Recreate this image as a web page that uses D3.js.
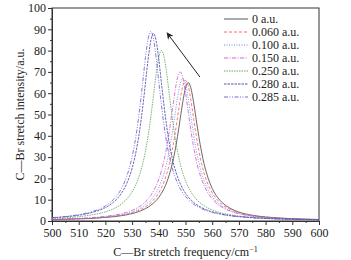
<!DOCTYPE html>
<html lang="en">
  <head>
    <meta charset="UTF-8" />
    <title>C-Br stretch spectra</title>
    <script src="https://cdn.jsdelivr.net/npm/d3@7"></script>
    <style>
      body { margin: 0; background: #fff; }
      text { font-family: 'Liberation Serif', 'Times New Roman', serif; fill: #222; }
    </style>
  </head>
  <body>
    <div id="chart_svg"></div>
    <script>
      // frequency grid, cm^-1
      const freq = [500, 505, 510, 515, 520, 523, 526, 528,
        529, 530, 531, 532, 533, 534, 535, 536, 537, 538, 539, 540,
        541, 542, 543, 544, 545, 546, 547, 548, 549, 550,
        551, 552, 553, 554, 555, 556, 557, 558, 559, 560,
        562, 564, 567, 570, 575, 580, 590, 600]

      const labels = ['0 a.u.', '0.060 a.u.', '0.100 a.u.', '0.150 a.u.', '0.250 a.u.', '0.280 a.u.', '0.285 a.u.']

      const s0 = [0.6, 0.8, 1.0, 1.2, 1.7, 2.0, 2.5, 2.9,
        3.2, 3.5, 3.8, 4.2, 4.7, 5.2, 5.8, 6.5, 7.4, 8.4, 9.6, 11.1,
        13.0, 15.3, 18.3, 22.0, 26.6, 32.5, 39.6, 47.8, 56.0, 62.5,
        65.0, 62.5, 56.0, 47.8, 39.6, 32.5, 26.6, 22.0, 18.3, 15.3,
        11.1, 8.4, 5.8, 4.2, 2.7, 1.9, 1.1, 0.7]
      const s1 = [0.7, 0.8, 1.0, 1.3, 1.8, 2.2, 2.7, 3.2,
        3.5, 3.9, 4.3, 4.7, 5.3, 5.9, 6.6, 7.5, 8.5, 9.8, 11.3, 13.2,
        15.6, 18.5, 22.3, 27.0, 33.0, 40.2, 48.5, 56.9, 63.5, 66.0,
        63.5, 56.9, 48.5, 40.2, 33.0, 27.0, 22.3, 18.5, 15.6, 13.2,
        9.8, 7.5, 5.3, 3.9, 2.5, 1.8, 1.0, 0.7]
      const s2 = [0.7, 0.9, 1.1, 1.4, 1.9, 2.4, 3.0, 3.6,
        3.9, 4.3, 4.8, 5.3, 6.0, 6.7, 7.6, 8.6, 9.9, 11.5, 13.4, 15.8,
        18.8, 22.6, 27.5, 33.5, 40.9, 49.3, 57.8, 64.4, 67.0, 64.4,
        57.8, 49.3, 40.9, 33.5, 27.5, 22.6, 18.8, 15.8, 13.4, 11.5,
        8.6, 6.7, 4.8, 3.6, 2.4, 1.7, 1.0, 0.6]
      const s3 = [0.8, 0.9, 1.2, 1.6, 2.2, 2.7, 3.4, 4.1,
        4.5, 5.0, 5.6, 6.2, 7.0, 7.9, 9.0, 10.4, 12.0, 14.0, 16.5, 19.7,
        23.6, 28.7, 35.0, 42.7, 51.5, 60.3, 67.3, 70.0, 67.3, 60.3,
        51.5, 42.7, 35.0, 28.7, 23.6, 19.7, 16.5, 14.0, 12.0, 10.4,
        7.9, 6.2, 4.5, 3.4, 2.3, 1.7, 1.0, 0.6]
      const s4 = [1.2, 1.5, 2.0, 2.9, 4.3, 5.7, 8.0, 10.3,
        11.8, 13.7, 16.0, 18.9, 22.5, 27.0, 32.8, 40.0, 48.8, 58.8, 69.0, 76.9,
        80.0, 76.9, 69.0, 58.8, 48.8, 40.0, 32.8, 27.0, 22.5, 18.9,
        16.0, 13.7, 11.8, 10.3, 9.0, 8.0, 7.1, 6.4, 5.7, 5.2,
        4.3, 3.6, 2.9, 2.3, 1.7, 1.3, 0.8, 0.6]
      const s5 = [1.5, 2.0, 2.7, 4.0, 6.3, 8.8, 13.0, 17.6,
        20.8, 24.7, 29.7, 36.1, 44.0, 53.7, 64.7, 75.9, 84.6, 88.0, 84.6, 75.9,
        64.7, 53.7, 44.0, 36.1, 29.7, 24.7, 20.8, 17.6, 15.1, 13.0,
        11.3, 10.0, 8.8, 7.8, 7.0, 6.3, 5.7, 5.2, 4.7, 4.3,
        3.7, 3.1, 2.5, 2.1, 1.6, 1.2, 0.8, 0.6]
      const s6 = [1.6, 2.1, 3.0, 4.4, 7.1, 10.1, 15.2, 21.0,
        25.0, 30.1, 36.5, 44.5, 54.3, 65.4, 76.7, 85.6, 89.0, 85.6, 76.7, 65.4,
        54.3, 44.5, 36.5, 30.1, 25.0, 21.0, 17.8, 15.2, 13.2, 11.5,
        10.1, 8.9, 7.9, 7.1, 6.4, 5.8, 5.2, 4.8, 4.4, 4.0,
        3.4, 3.0, 2.4, 2.0, 1.5, 1.2, 0.8, 0.6]

      // arrow (data units): tail -> head
      const arrowFrom = [555.4, 67.6]
      const arrowTo = [543.1, 88.3]

      const series = [s0, s1, s2, s3, s4, s5, s6]
      const colors = ['#444444', '#ff5555', '#5577ee', '#cc55cc', '#55a055', '#444499', '#6655dd']
      const dashes = ['none', '3,2', '1,1.5', '4,1.5,1,1.5', '1.5,1', '2.5,1', '4,1.5,1,1.5,1,1.5']

      const width = 351
      const height = 260
      const margin = { top: 8, right: 32, bottom: 39, left: 52 }
      const innerW = width - margin.left - margin.right
      const innerH = height - margin.top - margin.bottom

      const svg = d3.select('#chart_svg')
        .append('svg')
        .attr('width', width)
        .attr('height', height)

      const g = svg.append('g')
        .attr('transform', `translate(${margin.left},${margin.top})`)

      const x = d3.scaleLinear().domain([500, 600]).range([0, innerW])
      const y = d3.scaleLinear().domain([0, 100]).range([innerH, 0])

      // minor ticks
      g.append('g')
        .attr('transform', `translate(0,${innerH})`)
        .call(d3.axisBottom(x).tickValues(d3.range(505, 600, 10)).tickSize(2).tickFormat(''))
        .call(a => a.select('.domain').remove())
      g.append('g')
        .call(d3.axisLeft(y).tickValues(d3.range(5, 100, 10)).tickSize(2).tickFormat(''))
        .call(a => a.select('.domain').remove())

      g.append('g')
        .attr('transform', `translate(0,${innerH})`)
        .call(d3.axisBottom(x).tickValues(d3.range(500, 601, 10)).tickSize(4).tickPadding(3))
      g.append('g')
        .call(d3.axisLeft(y).tickValues(d3.range(0, 101, 10)).tickSize(4).tickPadding(2))

      svg.selectAll('.tick text')
        .style('font-family', "'Liberation Serif', serif")
        .style('font-size', '12px')
        .attr('fill', '#222')
      svg.selectAll('.tick line').attr('stroke', '#333')
      svg.selectAll('.domain').attr('stroke', '#333')

      // frame
      g.append('rect')
        .attr('width', innerW)
        .attr('height', innerH)
        .attr('fill', 'none')
        .attr('stroke', '#333')
        .attr('stroke-width', 1)

      const line = d3.line()
        .x((d, i) => x(freq[i]))
        .y(d => y(d))
        .curve(d3.curveMonotoneX)

      g.append('g')
        .selectAll('path')
        .data(series)
        .join('path')
        .attr('d', d => line(d))
        .attr('fill', 'none')
        .attr('stroke', (d, i) => colors[i])
        .attr('stroke-width', 0.8)
        .attr('stroke-dasharray', (d, i) => dashes[i])

      // arrow
      svg.append('defs').append('marker')
        .attr('id', 'head')
        .attr('viewBox', '0 0 10 10')
        .attr('refX', 9)
        .attr('refY', 5)
        .attr('markerWidth', 9)
        .attr('markerHeight', 7)
        .attr('orient', 'auto')
        .attr('markerUnits', 'userSpaceOnUse')
        .append('path')
        .attr('d', 'M0,0L10,5L0,10L3,5Z')
        .attr('fill', '#222')

      g.append('line')
        .attr('x1', x(arrowFrom[0]))
        .attr('y1', y(arrowFrom[1]))
        .attr('x2', x(arrowTo[0]))
        .attr('y2', y(arrowTo[1]))
        .attr('stroke', '#222')
        .attr('stroke-width', 1)
        .attr('marker-end', 'url(#head)')

      // legend
      const legend = svg.append('g').attr('transform', 'translate(224,19)')
      const rows = legend.selectAll('g')
        .data(labels)
        .join('g')
        .attr('transform', (d, i) => `translate(0,${i * 13})`)
      rows.append('line')
        .attr('x1', 0).attr('x2', 24)
        .attr('stroke', (d, i) => colors[i])
        .attr('stroke-width', 0.9)
        .attr('stroke-dasharray', (d, i) => dashes[i])
      rows.append('text')
        .attr('x', 28)
        .attr('dy', '0.35em')
        .style('font-size', '12px')
        .text(d => d)

      // axis titles
      svg.append('text')
        .attr('x', margin.left + innerW / 2)
        .attr('y', 256)
        .attr('text-anchor', 'middle')
        .style('font-size', '12px')
        .text('C\u2014Br stretch frequency/cm')
        .append('tspan')
        .attr('dy', '-0.45em')
        .style('font-size', '8px')
        .text('\u22121')

      svg.append('text')
        .attr('transform', `translate(24,${margin.top + innerH / 2}) rotate(-90)`)
        .attr('text-anchor', 'middle')
        .style('font-size', '12px')
        .text('C\u2014Br stretch intensity/a.u.')
    </script>
  </body>
</html>
